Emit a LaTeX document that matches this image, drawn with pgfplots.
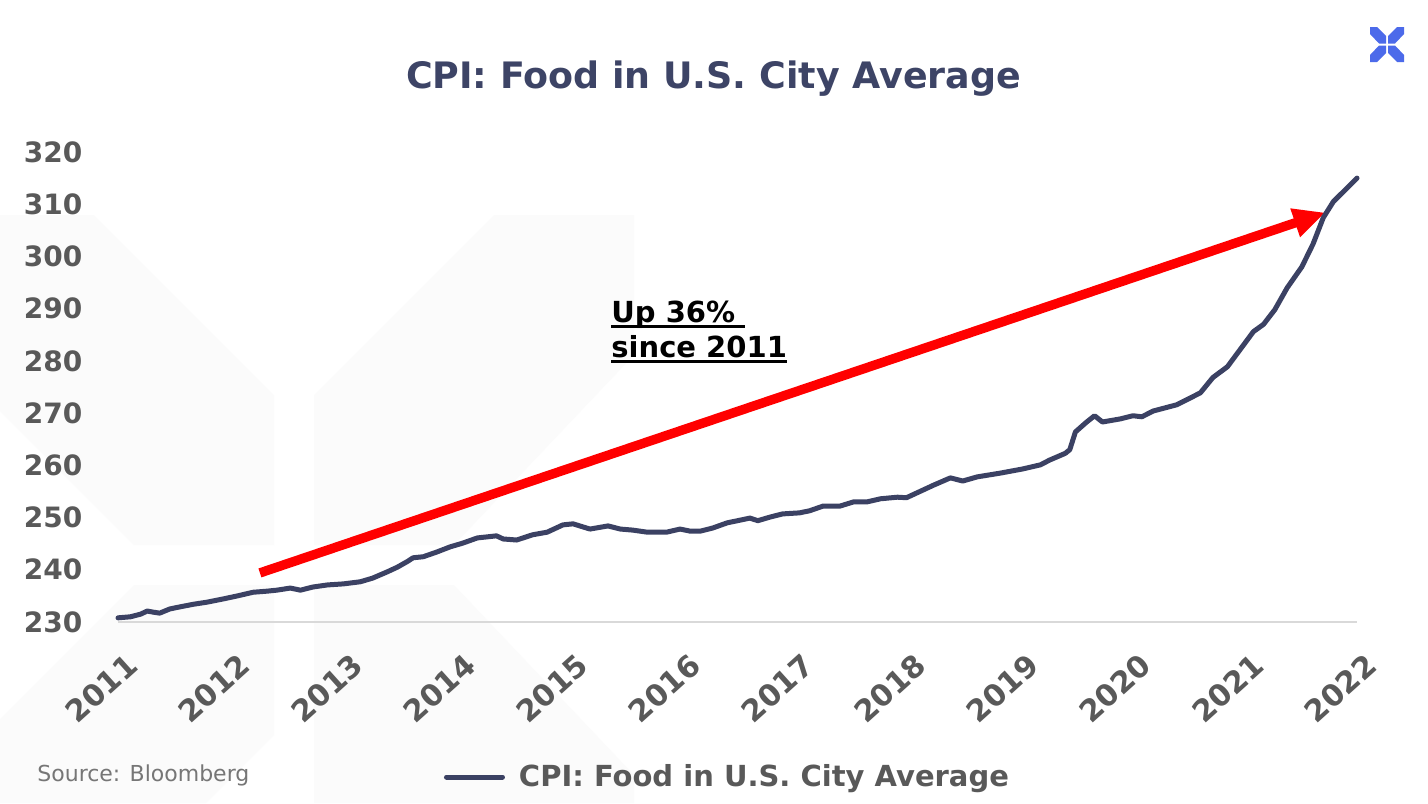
\documentclass[border=0pt]{standalone}
\usepackage{fontspec}
\setmainfont{DejaVu Sans}
\usepackage{pgfplots}
\pgfplotsset{compat=1.18}
\usetikzlibrary{arrows.meta}
\definecolor{navy}{HTML}{3B4163}
\definecolor{titlec}{HTML}{3D4466}
\definecolor{tickc}{HTML}{595959}
\definecolor{srcc}{HTML}{767676}
\definecolor{logoc}{HTML}{4C6AEA}
\definecolor{axisc}{HTML}{D9D9D9}
\definecolor{wm}{HTML}{FBFBFB}
\newcommand\ul[1]{\setbox0\hbox{#1}\rlap{\rule[-2.8pt]{\wd0}{1.1pt}}\box0}
\begin{document}
\begin{tikzpicture}
\useasboundingbox (0,0) rectangle (714pt,-401.5pt);
\fill[white] (0,0) rectangle (714pt,-401.5pt);
\begin{scope}[x=0.5pt,y=-0.5pt]
% faint watermark
\fill[wm] (0,215) -- (94,215) -- (274,395) -- (274,545) -- (134,545) -- (0,411) -- cycle;
\fill[wm] (634,215) -- (494,215) -- (314,395) -- (314,545) -- (454,545) -- (634,355) -- cycle;
\fill[wm] (0,803) -- (0,775) -- (0,719) -- (134,585) -- (274,585) -- (274,735) -- (206,803) -- cycle;
\fill[wm] (314,803) -- (314,585) -- (454,585) -- (634,775) -- (634,803) -- cycle;
% logo
\fill[logoc] (1370,27) -- (1377,27) -- (1386,36) -- (1386,43.5) -- (1379,43.5) -- (1370,34) -- cycle;
\fill[logoc] (1404,27) -- (1397,27) -- (1388,36) -- (1388,43.5) -- (1395,43.5) -- (1404,34) -- cycle;
\fill[logoc] (1370,62) -- (1377,62) -- (1386,53) -- (1386,45.5) -- (1379,45.5) -- (1370,55) -- cycle;
\fill[logoc] (1404,62) -- (1397,62) -- (1388,53) -- (1388,45.5) -- (1395,45.5) -- (1404,55) -- cycle;
\end{scope}
\node[anchor=base, inner sep=0, font=\fontsize{18.2}{20}\selectfont\bfseries, text=titlec] at (356.75pt,-44pt) {CPI: Food in U.S. City Average};
\begin{axis}[
  at={(59pt,-311pt)}, anchor=south west,
  scale only axis, width=619.5pt, height=235pt,
  xmin=2011, xmax=2022, ymin=230, ymax=320,
  xtick={2011,2012,...,2022}, ytick={230,240,...,320},
  axis x line=bottom, axis y line=left,
  x axis line style={-, draw=axisc, line width=0.9pt},
  y axis line style={draw=none},
  major tick length=0pt, tick style={draw=none},
  /pgf/number format/assume math mode=true,
  /pgf/number format/1000 sep={},
  ticklabel style={font=\fontsize{14}{16}\selectfont\bfseries, text=tickc},
  yticklabel style={anchor=east, xshift=-14.3pt},
  xticklabel style={font=\fontsize{15}{17}\selectfont\bfseries, rotate=42, anchor=north east, yshift=-10pt, xshift=-4pt},
  clip=false,
  legend style={draw=none, fill=none, at={(0.4927,-0.3298)}, anchor=center,
    font=\fontsize{14.5}{16}\selectfont\bfseries, text=tickc},
  legend image code/.code={\draw (0pt,0pt) -- (28pt,0pt);},
]
\draw[red, line width=4.7pt, -{Triangle[length=16pt, width=14pt]}] (axis cs:2012.26,239.4) -- (axis cs:2021.72,308.4);
\addplot[navy, line width=2.5pt, line cap=round, line join=round] table {
x y
2011.00 230.8
2011.11 231.0
2011.20 231.5
2011.26 232.1
2011.31 231.9
2011.37 231.7
2011.46 232.5
2011.55 232.9
2011.67 233.4
2011.79 233.8
2011.93 234.4
2012.06 235.0
2012.20 235.7
2012.32 235.9
2012.41 236.1
2012.53 236.5
2012.62 236.1
2012.73 236.7
2012.86 237.1
2013.00 237.3
2013.15 237.7
2013.26 238.4
2013.39 239.6
2013.48 240.5
2013.57 241.6
2013.62 242.3
2013.71 242.5
2013.83 243.4
2013.95 244.4
2014.06 245.1
2014.19 246.1
2014.36 246.5
2014.42 245.9
2014.54 245.7
2014.68 246.7
2014.81 247.2
2014.95 248.6
2015.04 248.8
2015.19 247.8
2015.35 248.4
2015.46 247.8
2015.57 247.6
2015.70 247.2
2015.87 247.2
2015.99 247.8
2016.08 247.4
2016.17 247.4
2016.28 248.0
2016.41 249.0
2016.50 249.4
2016.61 249.9
2016.68 249.4
2016.79 250.1
2016.90 250.7
2017.05 250.9
2017.14 251.3
2017.26 252.2
2017.41 252.2
2017.53 253.0
2017.65 253.0
2017.77 253.6
2017.92 253.9
2018.00 253.8
2018.09 254.7
2018.24 256.2
2018.39 257.6
2018.50 257.0
2018.63 257.8
2018.83 258.5
2019.03 259.3
2019.19 260.1
2019.27 261.0
2019.41 262.3
2019.45 263.0
2019.50 266.4
2019.60 268.3
2019.67 269.5
2019.74 268.3
2019.90 268.9
2020.01 269.5
2020.09 269.3
2020.19 270.4
2020.40 271.6
2020.52 272.9
2020.61 273.9
2020.72 276.8
2020.85 278.9
2020.96 282.1
2021.08 285.6
2021.17 287.0
2021.27 289.8
2021.38 294.0
2021.51 298.0
2021.61 302.4
2021.70 307.4
2021.79 310.5
2022.00 315.0
};
\addlegendentry{\hspace{5pt}CPI: Food in U.S. City Average}
\end{axis}
\node[anchor=base west, inner sep=0, font=\fontsize{14.5}{17.5}\selectfont\bfseries] at (305.5pt,-161pt) {\ul{Up 36\%~}};
\node[anchor=base west, inner sep=0, font=\fontsize{14.5}{17.5}\selectfont\bfseries] at (305.5pt,-178.5pt) {\ul{since 2011}};
\node[anchor=base west, inner sep=0, font=\fontsize{11}{13}\selectfont, text=srcc] at (18.5pt,-390.5pt) {Source: Bloomberg};
\end{tikzpicture}
\end{document}
